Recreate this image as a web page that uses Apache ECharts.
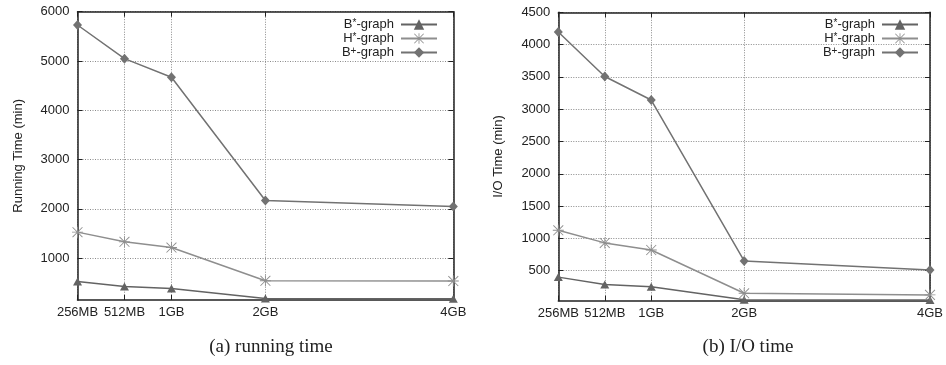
<!DOCTYPE html>
<html>
<head>
<meta charset="utf-8">
<script src="https://cdn.jsdelivr.net/npm/echarts@6/dist/echarts.min.js"></script>
<style>
  html, body { margin: 0; padding: 0; background: #fff; }
  #chart { width: 946px; height: 365px; }
</style>
</head>
<body>
<div id="chart"></div>
<script>
// memory sizes and where they sit on the x scale
const memLabels = ['256MB', '512MB', '1GB', '2GB', '4GB'];
const memPos = [0, 0.5, 1, 2, 4];

const seriesNames = ['B*-graph', 'H*-graph', 'B+-graph'];

// (a) running time, minutes
const runBStar = [526, 424, 384, 180, 175];
const runHStar = [1527, 1330, 1215, 540, 535];
const runBPlus = [5730, 5047, 4670, 2168, 2046];

// (b) I/O time, minutes
const ioBStar = [400, 285, 250, 50, 45];
const ioHStar = [1125, 930, 820, 150, 125];
const ioBPlus = [4196, 3506, 3142, 650, 511];

const runTicks = [1000, 2000, 3000, 4000, 5000, 6000];
const ioTicks = [500, 1000, 1500, 2000, 2500, 3000, 3500, 4000, 4500];

const FONT = 'Liberation Sans';
const asterisk = 'path://M0 9.2H20V10.8H0Z M9.2 0H10.8V20H9.2Z M0.43 1.57L1.57 0.43L19.57 18.43L18.43 19.57Z M18.43 0.43L19.57 1.57L1.57 19.57L0.43 18.43Z';

const styles = [
  { color: '#636363', symbol: 'triangle', size: [9, 8] },
  { color: '#8e8e8e', symbol: asterisk, size: 11 },
  { color: '#727272', symbol: 'diamond', size: [9, 10] }
];

function pairs(vals) {
  return vals.map((v, i) => [memPos[i], v]);
}

function xAxes(gridIndex) {
  const base = {
    type: 'value', gridIndex, min: 0, max: 4,
    axisLine: { show: true, onZero: false, lineStyle: { color: '#222', width: 1.5 } },
    axisTick: { show: true, inside: true, length: 5, customValues: memPos, lineStyle: { color: '#222' } }
  };
  return [
    Object.assign({}, base, {
      position: 'bottom',
      axisLabel: {
        customValues: memPos, margin: 6, fontFamily: FONT, fontSize: 13, color: '#222',
        formatter: v => memLabels[memPos.indexOf(v)]
      },
      splitLine: { show: true, lineStyle: { color: '#8a8a8a', type: [1, 1.5], width: 1 } }
    }),
    Object.assign({}, base, {
      position: 'top', axisLabel: { show: false }, splitLine: { show: false }
    })
  ];
}

function yAxes(gridIndex, min, max, ticks, name) {
  const base = {
    type: 'value', gridIndex, min, max,
    axisLine: { show: true, onZero: false, lineStyle: { color: '#222', width: 1.5 } },
    axisTick: { show: true, inside: true, length: 5, customValues: ticks, lineStyle: { color: '#222' } }
  };
  return [
    Object.assign({}, base, {
      position: 'left',
      name, nameLocation: 'middle', nameGap: 53,
      nameTextStyle: { fontFamily: FONT, fontSize: 13, color: '#222' },
      axisLabel: {
        customValues: ticks, margin: 8, fontFamily: FONT, fontSize: 13, color: '#222',
        formatter: v => String(v)
      },
      splitLine: { show: true, lineStyle: { color: '#8a8a8a', type: [1, 1.5], width: 1 } }
    }),
    Object.assign({}, base, {
      position: 'right', axisLabel: { show: false }, splitLine: { show: false }
    })
  ];
}

function lines(values, xi, yi) {
  return values.map((vals, k) => ({
    name: seriesNames[k],
    type: 'line',
    xAxisIndex: xi, yAxisIndex: yi,
    data: pairs(vals),
    symbol: styles[k].symbol,
    symbolSize: styles[k].size,
    showAllSymbol: true,
    color: styles[k].color,
    lineStyle: { color: styles[k].color, width: 1.5 },
    itemStyle: { color: styles[k].color },
    animation: false
  }));
}

// raised * and + after the first letter, like the paper's legend
function legendLabel(name) {
  return '{n|' + name[0] + '}{s|' + name[1] + '}{n|' + name.slice(2) + '}';
}

function legend(right) {
  return {
    data: seriesNames,
    orient: 'vertical', align: 'right',
    right, top: 13,
    itemWidth: 36, itemHeight: 13, itemGap: 0,
    formatter: legendLabel,
    textStyle: {
      fontFamily: FONT, fontSize: 13, color: '#222', padding: [0, 2, 0, 0],
      rich: {
        n: { fontFamily: FONT, fontSize: 13, color: '#222', lineHeight: 13 },
        s: { fontFamily: FONT, fontSize: 10, color: '#222', lineHeight: 13, verticalAlign: 'top', padding: [0, 0, 4, 0] }
      }
    },
    selectedMode: false
  };
}

const chart = echarts.init(document.getElementById('chart'), null, { renderer: 'canvas' });

chart.setOption({
  backgroundColor: '#fff',
  animation: false,
  grid: [
    { left: 77.5, right: 492.7, top: 11.7, bottom: 65 },
    { left: 558.3, right: 11.7, top: 12.3, bottom: 64.3 }
  ],
  xAxis: xAxes(0).concat(xAxes(1)),
  yAxis: yAxes(0, 150, 6000, runTicks, 'Running Time (min)')
    .concat(yAxes(1, 35, 4500, ioTicks, 'I/O Time (min)')),
  legend: [legend(503), legend(22)],
  title: [
    { text: '(a) running time', left: 266, top: 333, textAlign: 'center',
      textStyle: { fontFamily: 'Liberation Serif', fontSize: 19, fontWeight: 'normal', color: '#222' } },
    { text: '(b) I/O time', left: 743, top: 333, textAlign: 'center',
      textStyle: { fontFamily: 'Liberation Serif', fontSize: 19, fontWeight: 'normal', color: '#222' } }
  ],
  series: lines([runBStar, runHStar, runBPlus], 0, 0)
    .concat(lines([ioBStar, ioHStar, ioBPlus], 2, 2))
});
</script>
</body>
</html>
